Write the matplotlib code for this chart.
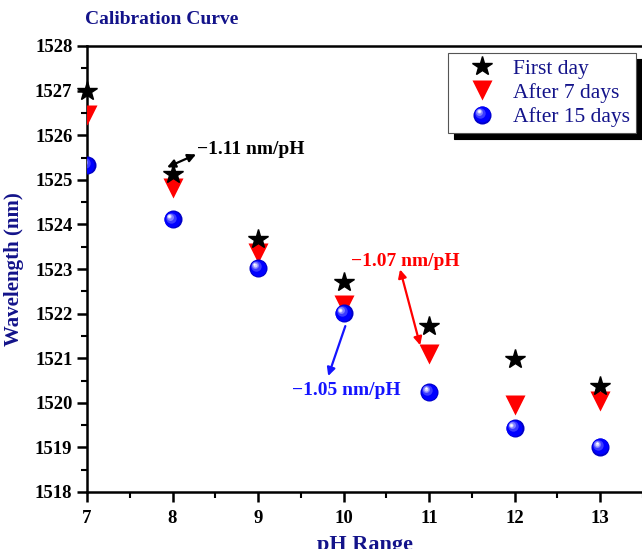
import matplotlib
matplotlib.use("Agg")
import matplotlib.pyplot as plt
from matplotlib.lines import Line2D
from matplotlib.legend_handler import HandlerBase
from matplotlib.transforms import offset_copy
from matplotlib.ticker import MultipleLocator

plt.rcParams['font.family'] = ['Liberation Serif', 'DejaVu Serif']
plt.rcParams['font.weight'] = 'bold'

# pH values and measured peak wavelengths (nm)
ph = [7, 8, 9, 10, 11, 12, 13]
first_day = [1526.98, 1525.12, 1523.67, 1522.70, 1521.72, 1520.98, 1520.37]
after_7 = [1526.46, 1524.82, 1523.35, 1522.20, 1521.09, 1519.95, 1520.04]
after_15 = [1525.33, 1524.11, 1523.02, 1522.01, 1520.24, 1519.43, 1519.01]

navy = '#13138a'

fig = plt.figure(figsize=(6.42, 5.49), dpi=100)
ax = fig.add_axes([87/642, 1 - 492/549, 556/642, 446/549])

# stars are left unclipped so the pH 7 star sits across the axis line
ax.plot(ph, first_day, ls='none', marker='*', ms=15, color='black', mec='black',
        zorder=6, clip_on=False)
ax.plot(ph, after_7, ls='none', marker='v', ms=14, color='red', mec='none', zorder=3)

# shaded sphere: stacked circles shifted toward the upper-left highlight
sphere_layers = [
    (13.0, '#0000c8', 0.0, 0.0),
    (11.5, '#0000ff', -0.4, 0.4),
    (7.5, '#3a3aff', -1.3, 1.3),
    (5.0, '#8080ff', -2.0, 2.0),
    (3.0, '#d0d0ff', -2.4, 2.4),
    (1.6, '#ffffff', -2.6, 2.6),
]
for size, col, dx, dy in sphere_layers:
    tr = offset_copy(ax.transData, fig=fig, x=dx, y=dy, units='points')
    ax.plot(ph, after_15, ls='none', marker='o', ms=size, color=col, mec='none',
            transform=tr, zorder=5)


class SphereHandler(HandlerBase):
    def create_artists(self, legend, orig_handle, xdescent, ydescent,
                       width, height, fontsize, trans):
        cx = 0.5 * width - xdescent
        cy = 0.5 * height - ydescent
        arts = []
        for size, col, dx, dy in sphere_layers:
            arts.append(Line2D([cx + dx], [cy + dy], ls='none', marker='o', ms=size,
                               color=col, mec='none', transform=trans))
        return arts


sphere_handle = object()
star_handle = Line2D([], [], ls='none', marker='*', ms=15, color='black')
tri_handle = Line2D([], [], ls='none', marker='v', ms=14, color='red', mec='none')

leg = ax.legend([star_handle, tri_handle, sphere_handle],
                ['First day', 'After 7 days', 'After 15 days'],
                handler_map={sphere_handle: SphereHandler()},
                loc='upper right', bbox_to_anchor=(0.987, 0.984), borderaxespad=0,
                fancybox=False, framealpha=1, edgecolor='#555555',
                shadow={'ox': 4.5, 'oy': -4.5, 'color': 'black', 'alpha': 1},
                prop={'size': 15.5, 'weight': 'normal'}, labelspacing=0.2,
                handlelength=2.7, handletextpad=0.1, borderpad=0.25, labelcolor=navy)
leg.get_frame().set_linewidth(0.8)

# slope annotations
ax.annotate('', xy=(8.275, 1525.57), xytext=(7.936, 1525.28),
            arrowprops=dict(arrowstyle='<|-|>', color='black', lw=1.6,
                            mutation_scale=12, shrinkA=0, shrinkB=0))
ax.text(8.29, 1525.68, '\u22121.11 nm/pH', color='black', fontsize=14,
        fontweight='bold', ha='left', va='center')

ax.annotate('', xy=(10.66, 1522.99), xytext=(10.895, 1521.29),
            arrowprops=dict(arrowstyle='<|-|>', color='red', lw=1.6,
                            mutation_scale=12, shrinkA=0, shrinkB=0))
ax.text(10.725, 1523.17, '\u22121.07 nm/pH', color='red', fontsize=14,
        fontweight='bold', ha='center', va='center')

ax.annotate('', xy=(9.82, 1520.60), xytext=(10.02, 1521.72),
            arrowprops=dict(arrowstyle='-|>', color='#1414ff', lw=1.6,
                            mutation_scale=12, shrinkA=0, shrinkB=0))
ax.text(10.03, 1520.27, '\u22121.05 nm/pH', color='#1414ff', fontsize=14,
        fontweight='bold', ha='center', va='center')

ax.set_xlim(7, 13.5)
ax.set_ylim(1518, 1528)
ax.xaxis.set_major_locator(MultipleLocator(1))
ax.xaxis.set_minor_locator(MultipleLocator(0.5))
ax.yaxis.set_major_locator(MultipleLocator(1))
ax.yaxis.set_minor_locator(MultipleLocator(0.5))
ax.tick_params(which='major', direction='out', length=7, width=1.8, labelsize=13.5)
ax.tick_params(which='minor', direction='out', length=4, width=1.5)
ax.tick_params(axis='x', pad=6)
for side in ['left', 'bottom', 'top']:
    ax.spines[side].set_linewidth(1.8)
ax.spines['right'].set_visible(False)

ax.set_xlabel('pH Range', fontsize=16, fontweight='bold', color=navy, labelpad=6)
ax.set_ylabel('Wavelength (nm)', fontsize=15, fontweight='bold', color=navy, labelpad=8)
fig.text(85/642, 1 - 19/549, 'Calibration Curve', fontsize=14, fontweight='bold',
         color=navy, ha='left', va='center')

fig.savefig('out.png', dpi=100)
